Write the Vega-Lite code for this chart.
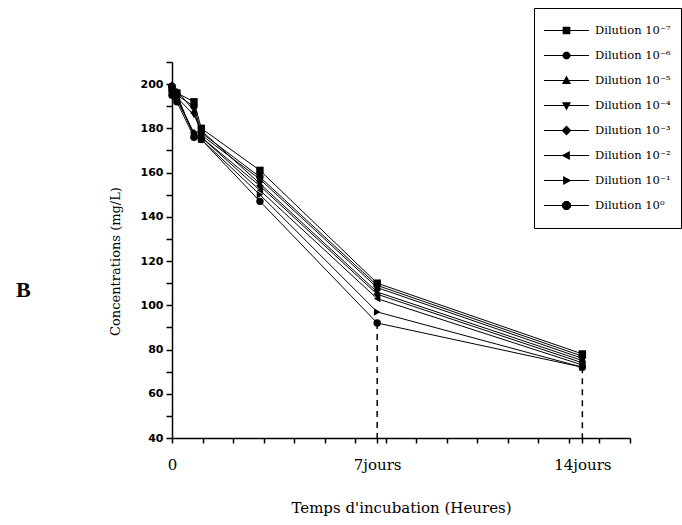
{
  "$schema": "https://vega.github.io/schema/vega-lite/v6.json",
  "autosize": "none",
  "width": 458,
  "height": 376,
  "padding": {"left": 172, "top": 62, "right": 52, "bottom": 87},
  "background": "white",
  "title": {"text": "B", "orient": "left", "angle": 0, "anchor": "middle", "font": "Liberation Serif", "fontSize": 22, "fontWeight": "bold", "color": "black", "dy": 30, "offset": 71},
  "datasets": {
    "series": [
      {"s": "Dilution 10⁻⁷", "k": 1, "t": 0, "v": 198}, {"s": "Dilution 10⁻⁷", "k": 1, "t": 4, "v": 196}, {"s": "Dilution 10⁻⁷", "k": 1, "t": 18, "v": 192}, {"s": "Dilution 10⁻⁷", "k": 1, "t": 24, "v": 180}, {"s": "Dilution 10⁻⁷", "k": 1, "t": 72, "v": 161}, {"s": "Dilution 10⁻⁷", "k": 1, "t": 168, "v": 110}, {"s": "Dilution 10⁻⁷", "k": 1, "t": 336, "v": 78},
      {"s": "Dilution 10⁻⁶", "k": 2, "t": 0, "v": 199}, {"s": "Dilution 10⁻⁶", "k": 2, "t": 4, "v": 195}, {"s": "Dilution 10⁻⁶", "k": 2, "t": 18, "v": 190}, {"s": "Dilution 10⁻⁶", "k": 2, "t": 24, "v": 178}, {"s": "Dilution 10⁻⁶", "k": 2, "t": 72, "v": 158}, {"s": "Dilution 10⁻⁶", "k": 2, "t": 168, "v": 109}, {"s": "Dilution 10⁻⁶", "k": 2, "t": 336, "v": 77},
      {"s": "Dilution 10⁻⁵", "k": 3, "t": 0, "v": 200}, {"s": "Dilution 10⁻⁵", "k": 3, "t": 4, "v": 197}, {"s": "Dilution 10⁻⁵", "k": 3, "t": 18, "v": 188}, {"s": "Dilution 10⁻⁵", "k": 3, "t": 24, "v": 177}, {"s": "Dilution 10⁻⁵", "k": 3, "t": 72, "v": 157}, {"s": "Dilution 10⁻⁵", "k": 3, "t": 168, "v": 108}, {"s": "Dilution 10⁻⁵", "k": 3, "t": 336, "v": 76},
      {"s": "Dilution 10⁻⁴", "k": 4, "t": 0, "v": 197}, {"s": "Dilution 10⁻⁴", "k": 4, "t": 4, "v": 194}, {"s": "Dilution 10⁻⁴", "k": 4, "t": 18, "v": 186}, {"s": "Dilution 10⁻⁴", "k": 4, "t": 24, "v": 179}, {"s": "Dilution 10⁻⁴", "k": 4, "t": 72, "v": 155}, {"s": "Dilution 10⁻⁴", "k": 4, "t": 168, "v": 106}, {"s": "Dilution 10⁻⁴", "k": 4, "t": 336, "v": 75},
      {"s": "Dilution 10⁻³", "k": 5, "t": 0, "v": 196}, {"s": "Dilution 10⁻³", "k": 5, "t": 4, "v": 193}, {"s": "Dilution 10⁻³", "k": 5, "t": 18, "v": 178}, {"s": "Dilution 10⁻³", "k": 5, "t": 24, "v": 176}, {"s": "Dilution 10⁻³", "k": 5, "t": 72, "v": 154}, {"s": "Dilution 10⁻³", "k": 5, "t": 168, "v": 105}, {"s": "Dilution 10⁻³", "k": 5, "t": 336, "v": 74},
      {"s": "Dilution 10⁻²", "k": 6, "t": 0, "v": 198}, {"s": "Dilution 10⁻²", "k": 6, "t": 4, "v": 195}, {"s": "Dilution 10⁻²", "k": 6, "t": 18, "v": 177}, {"s": "Dilution 10⁻²", "k": 6, "t": 24, "v": 176}, {"s": "Dilution 10⁻²", "k": 6, "t": 72, "v": 152}, {"s": "Dilution 10⁻²", "k": 6, "t": 168, "v": 103}, {"s": "Dilution 10⁻²", "k": 6, "t": 336, "v": 73},
      {"s": "Dilution 10⁻¹", "k": 7, "t": 0, "v": 197}, {"s": "Dilution 10⁻¹", "k": 7, "t": 4, "v": 194}, {"s": "Dilution 10⁻¹", "k": 7, "t": 18, "v": 177}, {"s": "Dilution 10⁻¹", "k": 7, "t": 24, "v": 175}, {"s": "Dilution 10⁻¹", "k": 7, "t": 72, "v": 150}, {"s": "Dilution 10⁻¹", "k": 7, "t": 168, "v": 97}, {"s": "Dilution 10⁻¹", "k": 7, "t": 336, "v": 72},
      {"s": "Dilution 10⁰", "k": 8, "t": 0, "v": 195}, {"s": "Dilution 10⁰", "k": 8, "t": 4, "v": 192}, {"s": "Dilution 10⁰", "k": 8, "t": 18, "v": 176}, {"s": "Dilution 10⁰", "k": 8, "t": 24, "v": 175}, {"s": "Dilution 10⁰", "k": 8, "t": 72, "v": 147}, {"s": "Dilution 10⁰", "k": 8, "t": 168, "v": 92}, {"s": "Dilution 10⁰", "k": 8, "t": 336, "v": 72}
    ],
    "marks": [
      {"t": 168, "v": 92},
      {"t": 336, "v": 72}
    ]
  },
  "config": {
    "view": {"stroke": null},
    "axis": {"grid": false, "domainColor": "black", "tickColor": "black", "labelColor": "black", "titleColor": "black", "domainWidth": 1.5, "tickWidth": 1.5}
  },
  "resolve": {"scale": {"shape": "independent"}, "legend": {"shape": "independent"}},
  "encoding": {
    "x": {"field": "t", "type": "quantitative", "scale": {"domain": [0, 375], "nice": false},
      "axis": {"values": [0, 25, 50, 75, 100, 125, 150, 168, 175, 200, 225, 250, 275, 300, 325, 336, 350, 375],
        "labelExpr": "datum.value == 0 ? '0' : datum.value == 168 ? '7jours' : datum.value == 336 ? '14jours' : ''",
        "labelFlush": false, "labelOverlap": false, "tickSize": 5, "labelPadding": 14,
        "labelFont": "DejaVu Serif", "labelFontSize": 15,
        "title": "Temps d'incubation (Heures)", "titleFont": "DejaVu Serif", "titleFontSize": 15, "titleFontWeight": "normal", "titlePadding": 28}},
    "y": {"field": "v", "type": "quantitative", "scale": {"domain": [40, 210], "nice": false, "zero": false},
      "axis": {"values": [40, 50, 60, 70, 80, 90, 100, 110, 120, 130, 140, 150, 160, 170, 180, 190, 200, 210],
        "labelExpr": "datum.value % 20 == 0 && datum.value <= 200 ? datum.value : ''",
        "tickSize": 6, "labelPadding": 3, "labelFont": "DejaVu Sans", "labelFontWeight": "bold", "labelFontSize": 11,
        "title": "Concentrations (mg/L)", "titleFont": "DejaVu Serif", "titleFontSize": 13, "titleFontWeight": "normal", "titleX": -50, "titleY": 199}}
  },
  "layer": [
    {
      "data": {"name": "marks"},
      "mark": {"type": "rule", "color": "black", "strokeWidth": 1.5, "strokeDash": [6, 5]},
      "encoding": {"y2": {"datum": 40}}
    },
    {
      "data": {"name": "series"},
      "mark": {"type": "line", "color": "black", "strokeWidth": 1},
      "encoding": {"detail": {"field": "s", "type": "nominal"}, "order": {"field": "t"}}
    },
    {
      "data": {"name": "series"},
      "mark": {"type": "point", "filled": true, "color": "black", "opacity": 1, "size": 55},
      "encoding": {"shape": {"field": "k", "type": "nominal", "legend": null,
        "scale": {"domain": [1, 2, 3, 4, 5, 6, 7, 8], "range": ["square", "circle", "triangle-up", "triangle-down", "diamond", "triangle-left", "triangle-right", "circle"]}}}
    },
    {
      "data": {"name": "series"},
      "mark": {"type": "point", "filled": true, "color": "black", "opacity": 0, "size": 0},
      "encoding": {"shape": {"field": "s", "type": "nominal",
        "scale": {"domain": ["Dilution 10⁻⁷", "Dilution 10⁻⁶", "Dilution 10⁻⁵", "Dilution 10⁻⁴", "Dilution 10⁻³", "Dilution 10⁻²", "Dilution 10⁻¹", "Dilution 10⁰"],
          "range": [
            "M-1,-0.025H1V0.025H-1ZM-0.17,-0.17H0.17V0.17H-0.17Z",
            "M-1,-0.025H1V0.025H-1ZM-0.07,-0.17L0.07,-0.17L0.17,-0.07L0.17,0.07L0.07,0.17L-0.07,0.17L-0.17,0.07L-0.17,-0.07Z",
            "M-1,-0.025H1V0.025H-1ZM-0.2,0.15L0,-0.22L0.2,0.15Z",
            "M-1,-0.025H1V0.025H-1ZM0.2,-0.15L0,0.22L-0.2,-0.15Z",
            "M-1,-0.025H1V0.025H-1ZM0,-0.22L0.22,0L0,0.22L-0.22,0Z",
            "M-1,-0.025H1V0.025H-1ZM0.15,0.2L-0.22,0L0.15,-0.2Z",
            "M-1,-0.025H1V0.025H-1ZM-0.15,-0.2L0.22,0L-0.15,0.2Z",
            "M-1,-0.025H1V0.025H-1ZM-0.08,-0.2L0.08,-0.2L0.2,-0.08L0.2,0.08L0.08,0.2L-0.08,0.2L-0.2,0.08L-0.2,-0.08Z"
          ]},
        "legend": {"title": null, "orient": "none", "legendX": 362, "legendY": -54,
          "symbolSize": 2025, "symbolOpacity": 1, "symbolFillColor": "black", "symbolStrokeColor": "black", "symbolStrokeWidth": 0,
          "labelFont": "DejaVu Serif", "labelFontSize": 11.5, "labelColor": "black", "labelLimit": 200,
          "strokeColor": "black", "padding": 10, "rowPadding": 0, "clipHeight": 25, "labelOffset": 6,
          "encode": {"legend": {"update": {"strokeWidth": {"value": 1.5}}},
                     "symbols": {"update": {"fill": {"value": "black"}, "opacity": {"value": 1}}}}}}}
    }
  ]
}
